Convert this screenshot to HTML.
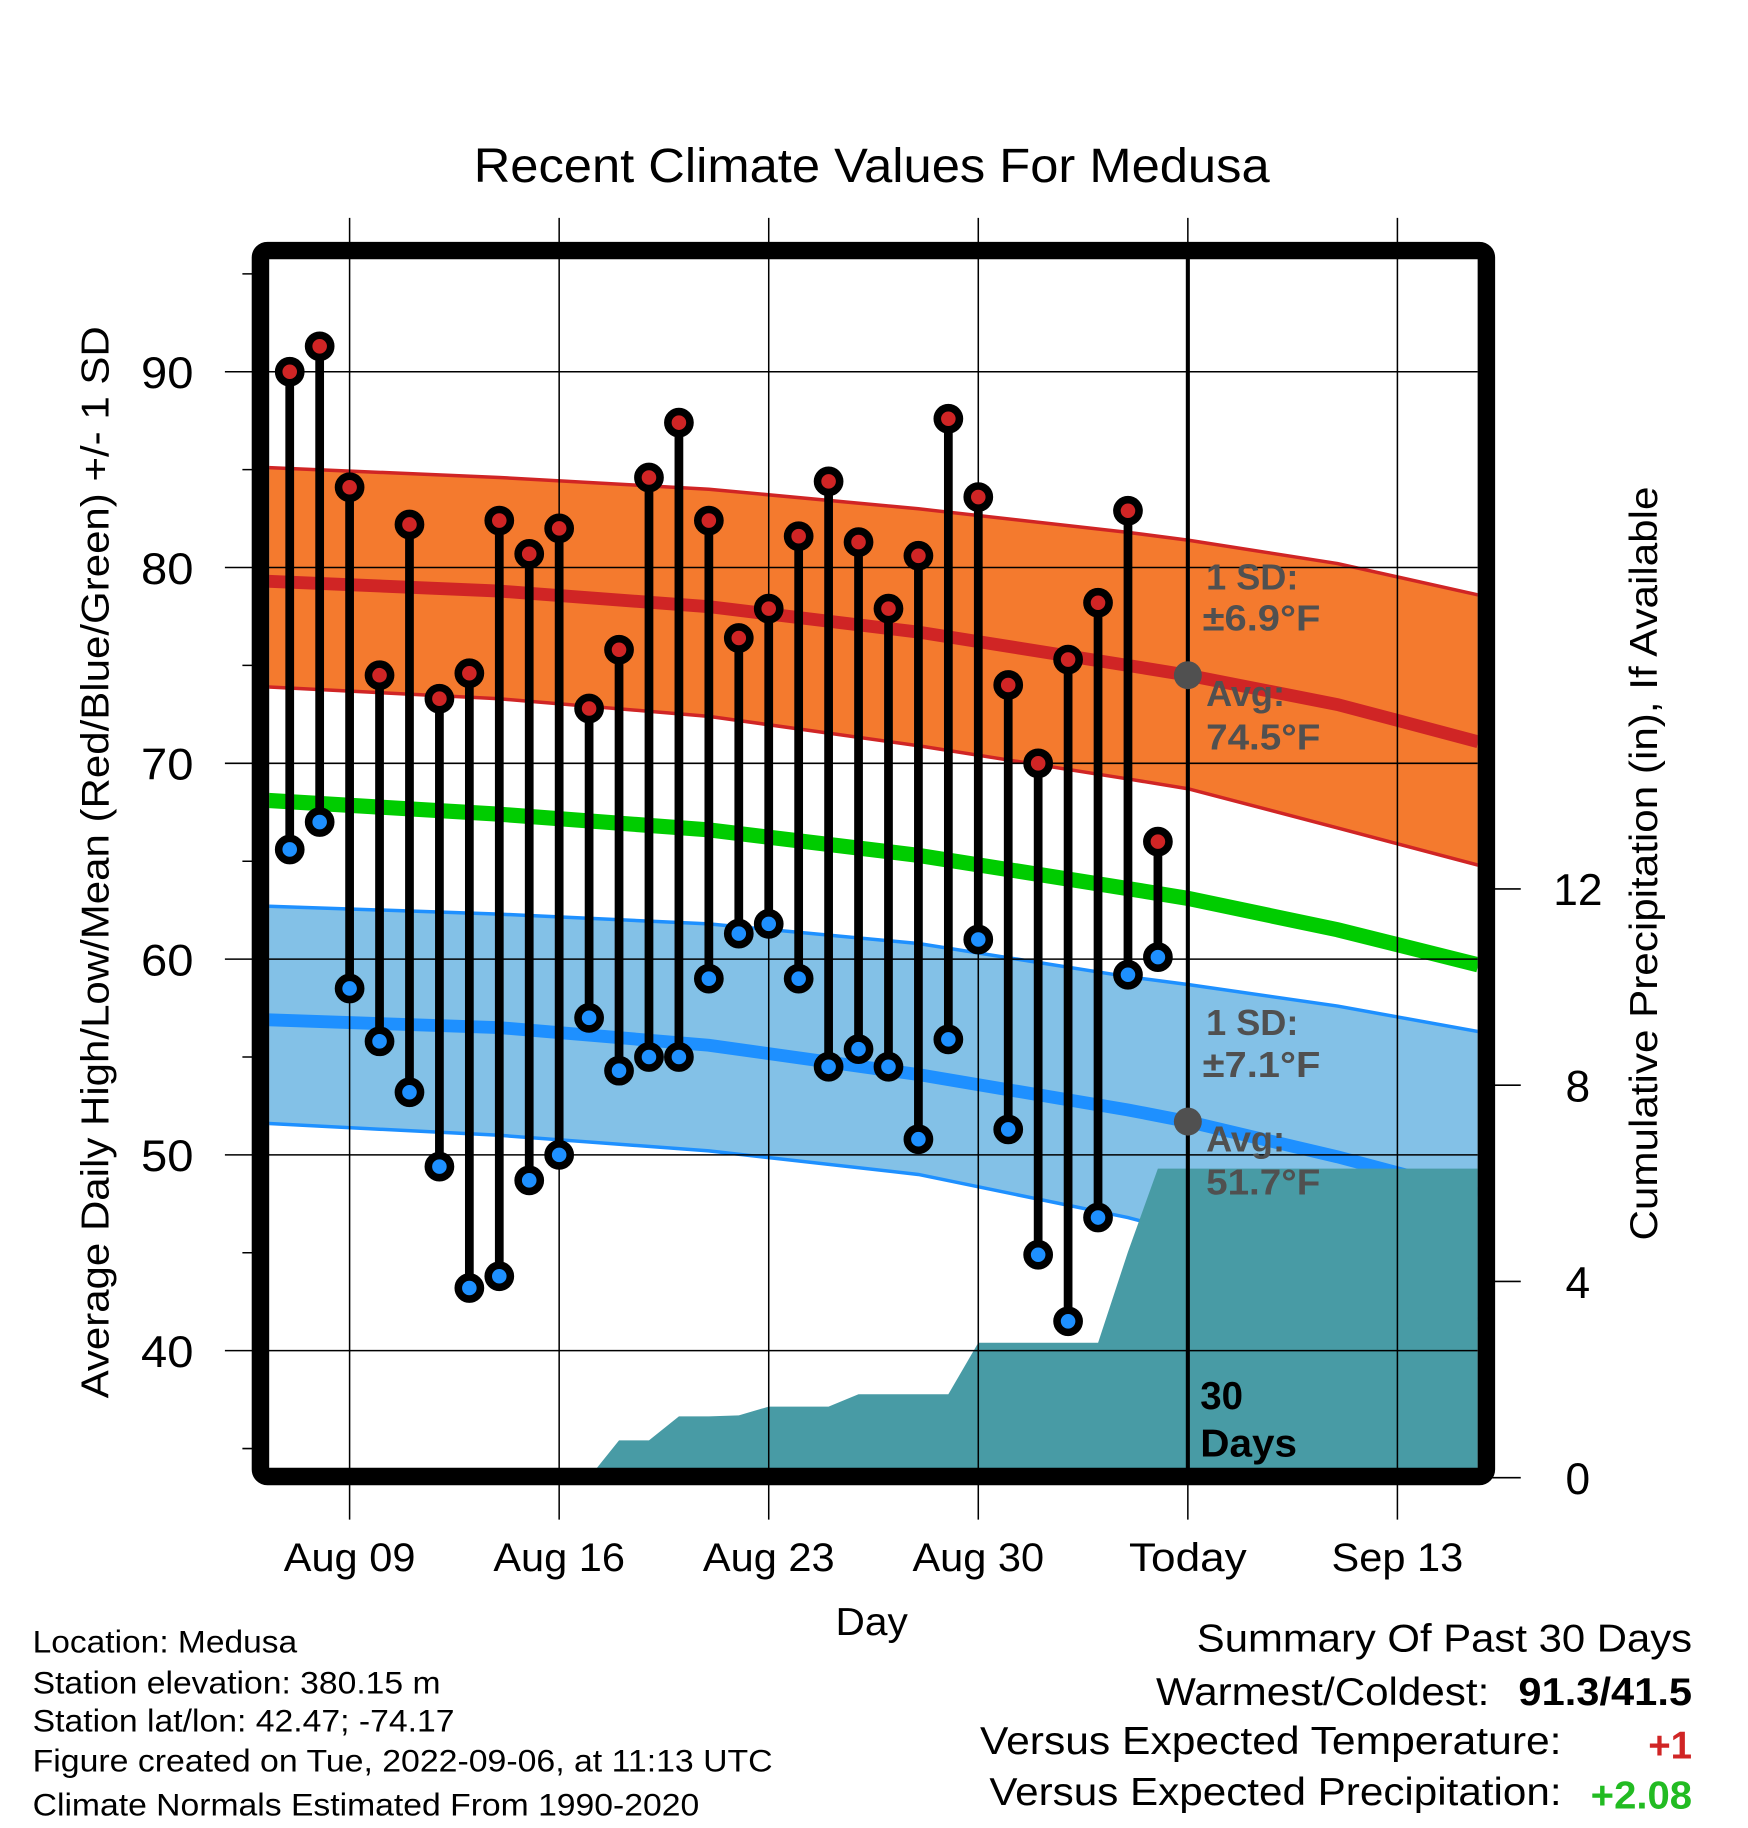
<!DOCTYPE html>
<html><head><meta charset="utf-8"><style>
html,body{margin:0;padding:0;background:#fff;}
svg{display:block;font-family:"Liberation Sans",sans-serif;}
</style></head><body>
<svg id="chart" width="1748" height="1828" viewBox="0 0 1500 1568.6" preserveAspectRatio="none" xmlns="http://www.w3.org/2000/svg">
<defs><clipPath id="plotclip"><rect x="231" y="222" width="1037" height="1038"/></clipPath></defs>
<g id="plot" clip-path="url(#plotclip)"></g>
<g id="over"></g>
</svg>
<script>
// ---- data ----
const normDays = [-2.7, 5, 12, 19, 26, 28, 33, 37.7];
const highUpper = [85.1, 84.6, 84.0, 83.0, 81.8, 81.4, 80.2, 78.6];
const highAvg = [79.3, 78.8, 78.0, 76.7, 75.0, 74.5, 73.0, 71.1];
const highLower = [73.9, 73.3, 72.4, 70.9, 69.2, 68.7, 66.7, 64.8];
const meanAvg = [68.1, 67.4, 66.6, 65.3, 63.6, 63.1, 61.5, 59.7];
const lowUpper = [62.7, 62.3, 61.8, 60.8, 59.1, 58.7, 57.6, 56.3];
const lowAvg = [56.9, 56.5, 55.6, 54.1, 52.3, 51.7, 49.9, 48.0];
const lowLower = [51.6, 51.0, 50.2, 49.0, 46.8, 46.0, 43.8, 41.6];
const highs = [90.0,91.3,84.1,74.5,82.2,73.3,74.6,82.4,80.7,82.0,72.8,75.8,84.6,87.4,82.4,76.4,77.9,81.6,84.4,81.3,77.9,80.6,87.6,83.6,74.0,70.0,75.3,78.2,82.9,66.0];
const lows = [65.6,67.0,58.5,55.8,53.2,49.4,43.2,43.8,48.7,50.0,57.0,54.3,55.0,55.0,59.0,61.3,61.8,59.0,54.5,55.4,54.5,50.8,55.9,61.0,51.3,44.9,41.5,46.8,59.2,60.1];
const precip = [0,0,0,0,0,0,0,0,0,0,0,0.76,0.76,1.25,1.25,1.27,1.45,1.45,1.45,1.70,1.70,1.70,1.70,2.75,2.75,2.75,2.75,2.75,4.6,6.3];
const firstDay = -2;
const todayDay = 28;
const xTickDays = [0, 7, 14, 21, 28, 35];
const xTickLabels = ["Aug 09","Aug 16","Aug 23","Aug 30","Today","Sep 13"];
const yTicks = [40, 50, 60, 70, 80, 90];
const yMinor = [35, 45, 55, 65, 75, 85, 95];
const rTicks = [0, 4, 8, 12];

// ---- scales ----
const X = d => 300 + d * 25.69;
const Y = t => 319 + (90 - t) * 16.8;
const R = p => 1268 - p * 42.1;
const NS = "http://www.w3.org/2000/svg";
const plot = document.getElementById('plot');
const over = document.getElementById('over');
function mk(tag, attrs, parent, txt){
  const e = document.createElementNS(NS, tag);
  for (const k in attrs) e.setAttribute(k, attrs[k]);
  if (txt !== undefined) e.textContent = txt;
  parent.appendChild(e);
  return e;
}
function pts(days, vals, fy){ return days.map((d,i)=>X(d).toFixed(1)+','+fy(vals[i]).toFixed(1)); }

let e;
e = mk('polygon',{points: pts(normDays,highUpper,Y).concat(pts(normDays,highLower,Y).reverse()).join(' '), fill:'#f47a2e'}, plot);


e = mk('polygon',{points: pts(normDays,lowUpper,Y).concat(pts(normDays,lowLower,Y).reverse()).join(' '), fill:'#83c1e7'}, plot);


[[highUpper,'#d02525',3,'high-upper-line'],[highLower,'#d02525',3,'high-lower-line'],[lowUpper,'#1e90ff',3,'low-upper-line'],[lowLower,'#1e90ff',3,'low-lower-line'],
 [highAvg,'#d02525',11,'high-normal-line'],[meanAvg,'#00cc00',13,'mean-normal-line'],[lowAvg,'#1e90ff',11,'low-normal-line']].forEach(s=>{
  const l = mk('polyline',{points: pts(normDays,s[0],Y).join(' '), fill:'none', stroke:s[1], 'stroke-width':s[2]}, plot);
  
  
});
const pp = precip.map((p,i)=>X(firstDay+i).toFixed(1)+','+R(p).toFixed(1));
pp.push(X(38).toFixed(1)+','+R(precip[precip.length-1]).toFixed(1));
pp.push(X(38).toFixed(1)+','+R(0));
pp.unshift(X(firstDay).toFixed(1)+','+R(0));
e = mk('polygon',{points: pp.join(' '), fill:'#489ba5'}, plot);


yTicks.forEach(t=>{
  const g = mk('line',{x1:193,x2:1268,y1:Y(t),y2:Y(t),stroke:'#000','stroke-width':1.3}, over);
  
  
  const lb = mk('text',{x:166,y:Y(t)+14,'font-size':38,'text-anchor':'end',textLength:45,lengthAdjust:'spacingAndGlyphs'}, over, String(t));
  
  
});
yMinor.forEach(t=>{
  const g = mk('line',{x1:208,x2:224,y1:Y(t),y2:Y(t),stroke:'#000','stroke-width':1.3}, over);
  
  
});
xTickDays.forEach((d,i)=>{
  const g = mk('line',{x1:X(d),x2:X(d),y1:187,y2:1304,stroke:'#000','stroke-width':1.3}, over);
  
  
  const w = xTickLabels[i]==='Today'?101:113;
  const lb = mk('text',{x:X(d),y:1348,'font-size':34,'text-anchor':'middle',textLength:w,lengthAdjust:'spacingAndGlyphs'}, over, xTickLabels[i]);
  
  
});
rTicks.forEach(p=>{
  const g = mk('line',{x1:1276,x2:1305,y1:R(p),y2:R(p),stroke:'#000','stroke-width':1.3}, over);
  
  
  const lb = mk('text',{x:1354,y:R(p)+14,'font-size':38,'text-anchor':'middle'}, over, String(p));
  
  
});
e = mk('line',{x1:X(todayDay),x2:X(todayDay),y1:222,y2:1260,stroke:'#000','stroke-width':3.5}, over);


highs.forEach((h,i)=>{
  const x = X(firstDay+i);
  const s = mk('line',{x1:x,x2:x,y1:Y(h),y2:Y(lows[i]),stroke:'#000','stroke-width':7.5}, over);
  
  
});
highs.forEach((h,i)=>{
  const x = X(firstDay+i);
  const c1 = mk('circle',{cx:x,cy:Y(h),r:9.5,fill:'#d02525',stroke:'#000','stroke-width':6.5}, over);
  
  
  const c2 = mk('circle',{cx:x,cy:Y(lows[i]),r:9.5,fill:'#1e90ff',stroke:'#000','stroke-width':6.5}, over);
  
  
});
e = mk('circle',{cx:X(todayDay),cy:Y(highAvg[5]),r:12,fill:'#505050'}, over);


e = mk('circle',{cx:X(todayDay),cy:Y(lowAvg[5]),r:12,fill:'#505050'}, over);


</script>
<script>
(function(){
const NS="http://www.w3.org/2000/svg";
const over=document.getElementById('over');
function t(x,y,s,txt,extra,parent,name){
  const e=document.createElementNS(NS,'text');
  e.setAttribute('x',x);e.setAttribute('y',y);e.setAttribute('font-size',s);
  for(const k in (extra||{})) e.setAttribute(k,extra[k]);
  e.textContent=txt;(parent||over).appendChild(e);
  
  
  return e;
}
const g={'font-weight':'bold',fill:'#505050'};
t(1035,506,31,'1 SD:',g,over,'high-sd-label');
t(1032,541,31,'±6.9°F',Object.assign({textLength:101,lengthAdjust:'spacingAndGlyphs'},g),over,'high-sd-value');
t(1035,606,31,'Avg:',g,over,'high-avg-label');
t(1035,643,31,'74.5°F',Object.assign({textLength:98,lengthAdjust:'spacingAndGlyphs'},g),over,'high-avg-value');
t(1035,888,31,'1 SD:',g,over,'low-sd-label');
t(1032,924,31,'±7.1°F',Object.assign({textLength:101,lengthAdjust:'spacingAndGlyphs'},g),over,'low-sd-value');
t(1035,988,31,'Avg:',g,over,'low-avg-label');
t(1035,1025,31,'51.7°F',Object.assign({textLength:98,lengthAdjust:'spacingAndGlyphs'},g),over,'low-avg-value');
t(1030,1209,33,'30',{'font-weight':'bold'},over,'days-label');
t(1030,1250,33,'Days',{'font-weight':'bold',textLength:83,lengthAdjust:'spacingAndGlyphs'},over,'days-label-2');
})();
</script>
<svg style="position:absolute;left:0;top:0" width="1748" height="1828" viewBox="0 0 1500 1568.6" preserveAspectRatio="none" xmlns="http://www.w3.org/2000/svg" font-family="Liberation Sans, sans-serif">
<rect x="223.5" y="215" width="1052" height="1052" rx="6" fill="none" stroke="#000" stroke-width="15"/>
<text x="748" y="156" font-size="41" text-anchor="middle" textLength="683" lengthAdjust="spacingAndGlyphs">Recent Climate Values For Medusa</text>
<text transform="translate(93,740) rotate(-90)" font-size="33" text-anchor="middle" textLength="920" lengthAdjust="spacingAndGlyphs">Average Daily High/Low/Mean (Red/Blue/Green) +/- 1 SD</text>
<text transform="translate(1422,741) rotate(-90)" font-size="33" text-anchor="middle" textLength="647" lengthAdjust="spacingAndGlyphs">Cumulative Precipitation (in), If Available</text>
<text x="748" y="1403" font-size="33" text-anchor="middle" textLength="62" lengthAdjust="spacingAndGlyphs">Day</text>
<g font-size="27">
<text x="28" y="1418" textLength="227" lengthAdjust="spacingAndGlyphs">Location: Medusa</text>
<text x="28" y="1453" textLength="350" lengthAdjust="spacingAndGlyphs">Station elevation: 380.15 m</text>
<text x="28" y="1486" textLength="362" lengthAdjust="spacingAndGlyphs">Station lat/lon: 42.47; -74.17</text>
<text x="28" y="1520" textLength="635" lengthAdjust="spacingAndGlyphs">Figure created on Tue, 2022-09-06, at 11:13 UTC</text>
<text x="28" y="1558" textLength="572" lengthAdjust="spacingAndGlyphs">Climate Normals Estimated From 1990-2020</text>
</g>
<g font-size="33">
<text x="1027" y="1417" textLength="425" lengthAdjust="spacingAndGlyphs">Summary Of Past 30 Days</text>
<text x="992" y="1463" textLength="286" lengthAdjust="spacingAndGlyphs">Warmest/Coldest:</text>
<text x="1303" y="1463" font-weight="bold" textLength="149" lengthAdjust="spacingAndGlyphs">91.3/41.5</text>
<text x="841" y="1505" textLength="499" lengthAdjust="spacingAndGlyphs">Versus Expected Temperature:</text>
<text x="1452" y="1509" text-anchor="end" font-weight="bold" fill="#d02525">+1</text>
<text x="849" y="1549" textLength="491" lengthAdjust="spacingAndGlyphs">Versus Expected Precipitation:</text>
<text x="1365" y="1552" font-weight="bold" fill="#22bb22" textLength="87" lengthAdjust="spacingAndGlyphs">+2.08</text>
</g>
</svg>
</body></html>
